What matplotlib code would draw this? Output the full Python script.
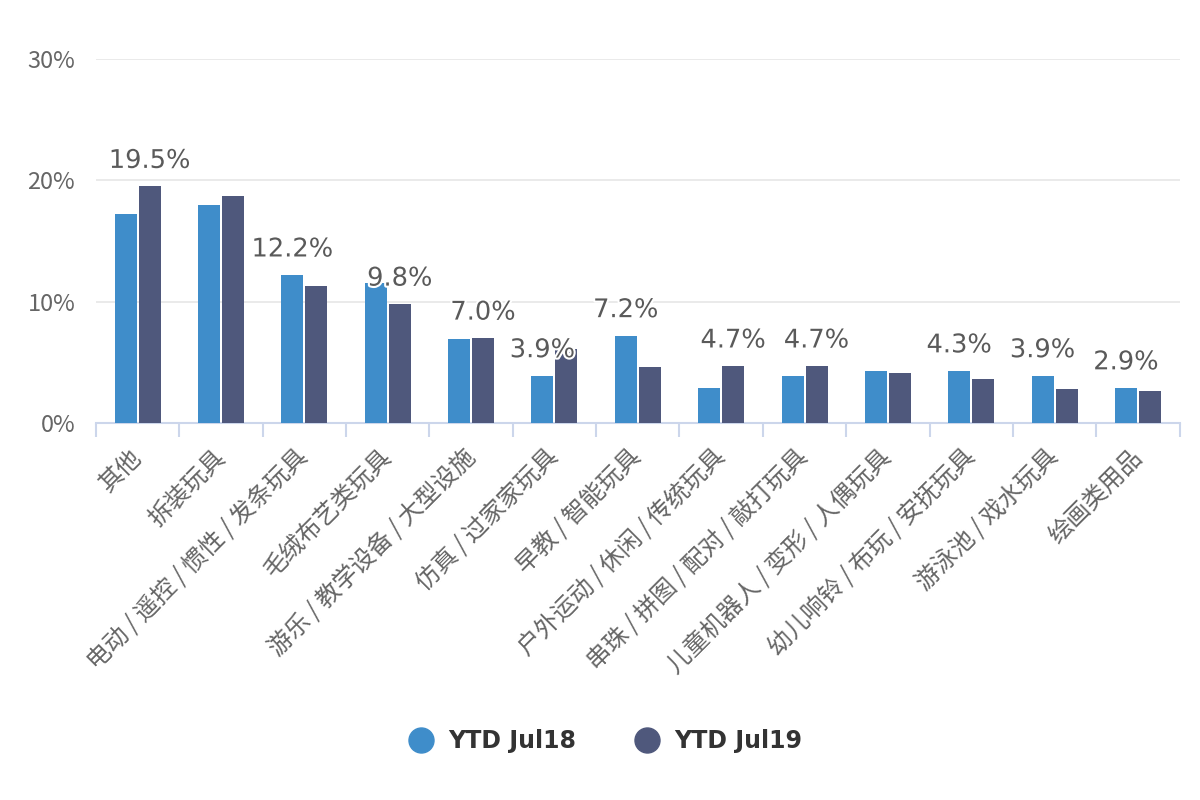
import numpy as np
import matplotlib
matplotlib.use('Agg')
import matplotlib.pyplot as plt
import matplotlib.patheffects as pe
from matplotlib.lines import Line2D

plt.rcParams['font.family'] = ['Noto Sans CJK SC', 'DejaVu Sans']

categories = ['其他', '拆装玩具', '电动/遥控/惯性/发条玩具', '毛绒布艺类玩具', '游乐/教学设备/大型设施',
              '仿真/过家家玩具', '早教/智能玩具', '户外运动/休闲/传统玩具', '串珠/拼图/配对/敲打玩具',
              '儿童机器人/变形/人偶玩具', '幼儿响铃/布玩/安抚玩具', '游泳池/戏水玩具', '绘画类用品']
jul18 = [17.2, 18.0, 12.2, 11.5, 6.9, 3.9, 7.2, 2.9, 3.9, 4.3, 4.3, 3.9, 2.9]
jul19 = [19.5, 18.7, 11.3, 9.8, 7.0, 6.1, 4.6, 4.7, 4.7, 4.1, 3.6, 2.8, 2.6]
series_names = ['YTD Jul18', 'YTD Jul19']
# which bars keep a visible data label: (series index, category index)
shown_labels = [(1, 0), (0, 2), (1, 3), (1, 4), (0, 5), (0, 6), (1, 7), (1, 8), (0, 10), (0, 11), (0, 12)]

colors = ['#3f8dca', '#4f587c']

fig = plt.figure(figsize=(12, 8), dpi=100)
ax = fig.add_axes([0.08, 0.4712, 0.903, 0.4551])

x = np.arange(len(categories))
w = 0.264
off = 0.144
for i, vals in enumerate([jul18, jul19]):
    ax.bar(x + (off if i else -off), vals, width=w, color=colors[i], zorder=3)

for s, c in shown_labels:
    v = [jul18, jul19][s][c]
    ax.annotate(f'{v:.1f}%', xy=(x[c] + (off if s else -off), v), xytext=(0, 9),
                textcoords='offset points', ha='center', va='bottom',
                fontsize=18.5, color='#5a5a5a', zorder=5, family=['DejaVu Sans'],
                path_effects=[pe.withStroke(linewidth=3, foreground='white')])

ax.set_xlim(-0.5, len(categories) - 0.5)
ax.set_ylim(0, 30)
ax.set_yticks([0, 10, 20, 30])
ax.set_yticklabels(['0%', '10%', '20%', '30%'])
ax.yaxis.grid(True, color='#e6e6e6', linewidth=1.2, zorder=0)
ax.tick_params(axis='y', length=0, pad=15, labelsize=17, labelcolor='#666666')

ax.set_xticks(x)
ax.set_xticklabels([c.replace('/', '\u2009/\u2009') for c in categories], rotation=45, ha='right',
                   va='center', rotation_mode='anchor')
ax.set_xticks(np.arange(len(categories) + 1) - 0.5, minor=True)
ax.tick_params(axis='x', which='major', length=0, pad=22, labelsize=17.5, labelcolor='#666666')
ax.tick_params(axis='x', which='minor', length=10, width=1.5, color='#ccd6eb')

for sp in ['top', 'right', 'left']:
    ax.spines[sp].set_visible(False)
ax.spines['bottom'].set_color('#ccd6eb')
ax.spines['bottom'].set_linewidth(1.5)

handles = [Line2D([], [], marker='o', linestyle='none', markersize=18, color=c) for c in colors]
fig.legend(handles, series_names, loc='center', bbox_to_anchor=(0.5, 0.074), ncol=2, frameon=False,
           handletextpad=0.15, columnspacing=2.0,
           prop={'family': ['DejaVu Sans'], 'size': 17, 'weight': 'bold'}, labelcolor='#333333')

fig.savefig('out.png', dpi=100, facecolor='white')
